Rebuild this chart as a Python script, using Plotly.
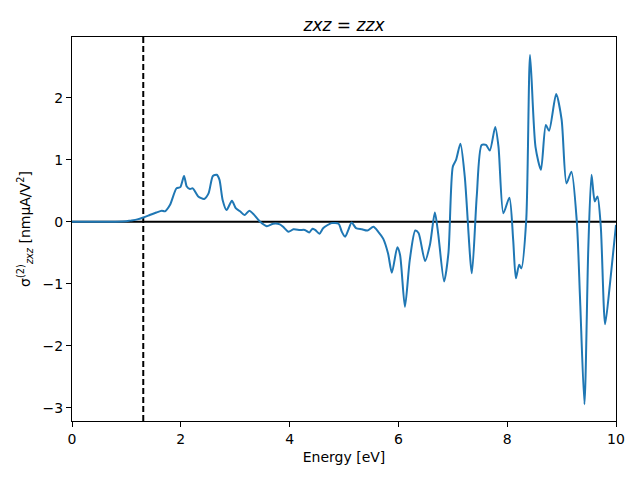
import plotly.graph_objects as go

energy = [0.0, 0.5, 0.8, 1.0, 1.07, 1.2, 1.31, 1.43, 1.55, 1.65, 1.71, 1.80, 1.92, 1.99, 2.06, 2.11, 2.17, 2.22,
          2.32, 2.43, 2.51, 2.59, 2.66, 2.71, 2.77, 2.84, 2.94, 3.01, 3.09, 3.17, 3.26, 3.33, 3.46, 3.58,
          3.70, 3.82, 3.88, 3.98, 4.07, 4.19, 4.28, 4.36, 4.42, 4.47, 4.55, 4.62, 4.77, 4.90, 4.96, 5.02,
          5.08, 5.14, 5.22, 5.33, 5.43, 5.54, 5.63, 5.72, 5.81, 5.88, 5.98, 6.03, 6.12, 6.21, 6.31, 6.37,
          6.49, 6.58, 6.67, 6.73, 6.84, 6.92, 7.00, 7.06, 7.14, 7.22, 7.35, 7.44, 7.53, 7.61, 7.68, 7.78,
          7.84, 7.93, 8.04, 8.11, 8.16, 8.22, 8.26, 8.35, 8.42, 8.52, 8.62, 8.71, 8.77, 8.90, 9.00, 9.09,
          9.18, 9.28, 9.34, 9.42, 9.49, 9.55, 9.61, 9.66, 9.72, 9.80, 9.89, 10.0]
sigma = [0.0, 0.0, 0.003, 0.01, 0.02, 0.04, 0.07, 0.11, 0.15, 0.18, 0.17, 0.27, 0.54, 0.56, 0.74, 0.57, 0.53, 0.54,
         0.41, 0.37, 0.46, 0.74, 0.76, 0.68, 0.35, 0.19, 0.34, 0.22, 0.17, 0.11, 0.18, 0.13, 0.0, -0.07,
         -0.03, -0.04, -0.08, -0.16, -0.12, -0.13, -0.13, -0.17, -0.11, -0.13, -0.19, -0.10, -0.02, -0.03, -0.16, -0.24,
         -0.13, -0.01, -0.10, -0.12, -0.14, -0.08, -0.16, -0.27, -0.51, -0.82, -0.41, -0.53, -1.37, -0.61, -0.14, -0.18,
         -0.63, -0.37, 0.15, -0.18, -0.96, -0.50, 0.89, 1.0, 1.26, 0.73, -0.83, 0.41, 1.24, 1.24, 1.15, 1.53,
         1.21, 0.14, 0.39, -0.29, -0.91, -0.69, -0.75, 0.03, 2.69, 1.21, 0.84, 1.56, 1.47, 2.06, 1.65, 0.62,
         0.81, 0.0, -1.26, -2.94, -0.45, 0.76, 0.33, 0.41, -0.07, -1.65, -0.99, -0.05]

gap_energy = 1.31
x_range = [0, 10]
y_range = [-3.21, 2.98]
x_ticks = [0, 2, 4, 6, 8, 10]
y_ticks = [-3, -2, -1, 0, 1, 2]

fig = go.Figure()
fig.add_trace(go.Scatter(x=x_range, y=[0, 0], mode="lines", line=dict(color="black", width=2), hoverinfo="skip"))
fig.add_trace(go.Scatter(x=[gap_energy, gap_energy], y=y_range, mode="lines",
                         line=dict(color="black", width=2, dash="6px,3px"), hoverinfo="skip"))
fig.add_trace(go.Scatter(x=energy, y=sigma, mode="lines",
                         line=dict(color="#1f77b4", width=2, shape="spline", smoothing=0.7)))

font = "DejaVu Sans, sans-serif"
fig.update_layout(
    width=640, height=480, showlegend=False,
    paper_bgcolor="white", plot_bgcolor="white",
    margin=dict(l=72, r=24, t=37, b=59),
    font=dict(family=font, size=14, color="black"),
    title=dict(text="<i>zxz</i> = <i>zzx</i>", x=0.5, xref="paper", xanchor="center",
               y=1, yref="paper", yanchor="bottom", pad=dict(b=6), font=dict(size=17)),
    xaxis=dict(range=x_range, tickvals=x_ticks, ticks="outside", ticklen=5, tickcolor="black",
               tickfont=dict(size=14),
               showgrid=False, zeroline=False, showline=True, linecolor="black", linewidth=1, mirror=True,
               title=dict(text="Energy [eV]", standoff=6, font=dict(size=14))),
    yaxis=dict(range=y_range, tickvals=y_ticks, ticks="outside", ticklen=5, tickcolor="black",
               tickfont=dict(size=14),
               showgrid=False, zeroline=False, showline=True, linecolor="black", linewidth=1, mirror=True,
               title=dict(text="σ<sup>(2)</sup><sub><i>zxz</i></sub> [nmμA/V<sup>2</sup>]", standoff=8,
                          font=dict(size=14))),
)
fig.write_html("out.html")
